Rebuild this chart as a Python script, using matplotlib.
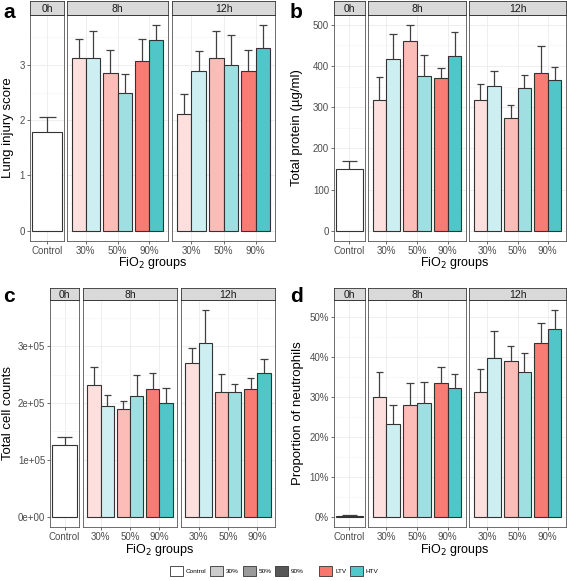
import matplotlib
matplotlib.use("Agg")
import matplotlib.pyplot as plt
from matplotlib.patches import Patch
import numpy as np

plt.rcParams["font.family"] = ["Liberation Sans Narrow", "Liberation Sans", "DejaVu Sans"]
plt.rcParams["mathtext.fontset"] = "custom"
plt.rcParams["mathtext.rm"] = "Liberation Sans Narrow"

W, H = 567, 581

TIMES = ["0h", "8h", "12h"]
FIO2 = ["30%", "50%", "90%"]

# rows: 8h, 12h ; columns: 30%, 50%, 90% FiO2 ; values = mean, *_SD = upper error
INJURY_CTRL, INJURY_CTRL_SD = 1.78, 0.28
INJURY_LTV = [[3.13, 2.86, 3.07], [2.12, 3.13, 2.89]]
INJURY_LTV_SD = [[0.35, 0.41, 0.41], [0.35, 0.48, 0.38]]
INJURY_HTV = [[3.13, 2.50, 3.46], [2.89, 3.00, 3.30]]
INJURY_HTV_SD = [[0.48, 0.33, 0.26], [0.36, 0.54, 0.42]]

PROTEIN_CTRL, PROTEIN_CTRL_SD = 151, 19
PROTEIN_LTV = [[317, 461, 372], [318, 274, 383]]
PROTEIN_LTV_SD = [[56, 38, 23], [38, 31, 65]]
PROTEIN_HTV = [[417, 376, 424], [352, 346, 365]]
PROTEIN_HTV_SD = [[61, 50, 58], [35, 33, 32]]

CELLS_CTRL, CELLS_CTRL_SD = 125700, 14300
CELLS_LTV = [[231000, 190000, 224000], [270000, 219000, 224000]]
CELLS_LTV_SD = [[32000, 14000, 28000], [27000, 32000, 20000]]
CELLS_HTV = [[195500, 213000, 200000], [305000, 220000, 252000]]
CELLS_HTV_SD = [[18500, 36000, 27000], [58000, 14000, 25000]]

NEUTRO_CTRL, NEUTRO_CTRL_SD = 0.0025, 0.0025
NEUTRO_LTV = [[0.300, 0.280, 0.336], [0.313, 0.390, 0.437]]
NEUTRO_LTV_SD = [[0.063, 0.056, 0.039], [0.058, 0.039, 0.049]]
NEUTRO_HTV = [[0.233, 0.285, 0.322], [0.398, 0.364, 0.471]]
NEUTRO_HTV_SD = [[0.047, 0.052, 0.036], [0.069, 0.047, 0.047]]

LTV_COLORS = ["#FDE0DE", "#FCBCB7", "#F87C73"]
HTV_COLORS = ["#CDEFF1", "#A0DFE1", "#50C6C9"]
EDGE = "#333333"
ERR = "#404040"


def px_rect(x0, x1, y0, y1):
    return [x0 / W, 1 - y1 / H, (x1 - x0) / W, (y1 - y0) / H]


def draw_panel(fig, facets, yr, strip, ctrl, ctrl_sd, ltv, ltv_sd, htv, htv_sd,
               major, minor, fmt):
    top = max(ctrl + ctrl_sd, np.max(np.add(ltv, ltv_sd)), np.max(np.add(htv, htv_sd)))
    ylim = (-0.05 * top, 1.05 * top)
    for i, (xr, t) in enumerate(zip(facets, TIMES)):
        ax = fig.add_axes(px_rect(*xr, *yr))
        ax.set_axisbelow(True)
        sax = fig.add_axes(px_rect(*xr, *strip))
        sax.set_facecolor("#D9D9D9")
        sax.set_xticks([])
        sax.set_yticks([])
        for s in sax.spines.values():
            s.set_color(EDGE)
            s.set_linewidth(0.6)
        sax.text(0.5, 0.45, t, ha="center", va="center", transform=sax.transAxes,
                 fontsize=7.5, color="#1A1A1A")

        if i == 0:
            ax.bar([1], [ctrl], width=1.04, color="white", edgecolor=EDGE, lw=0.8, zorder=2)
            ax.vlines([1], [ctrl], [ctrl + ctrl_sd], color=ERR, lw=0.9, zorder=3)
            ax.hlines([ctrl + ctrl_sd], [0.7], [1.3], color=ERR, lw=0.9, zorder=3)
            ax.set_xlim(0.4, 1.6)
            ax.set_xticks([1])
            ax.set_xticklabels(["Control"])
        else:
            x = np.arange(1, len(FIO2) + 1)
            m_l, s_l = np.array(ltv[i - 1]), np.array(ltv_sd[i - 1])
            m_h, s_h = np.array(htv[i - 1]), np.array(htv_sd[i - 1])
            ax.bar(x - 0.225, m_l, width=0.45, color=LTV_COLORS, edgecolor=EDGE, lw=0.8, zorder=2)
            ax.bar(x + 0.225, m_h, width=0.45, color=HTV_COLORS, edgecolor=EDGE, lw=0.8, zorder=2)
            for xs, m, s in ((x - 0.225, m_l, s_l), (x + 0.225, m_h, s_h)):
                ax.vlines(xs, m, m + s, color=ERR, lw=0.9, zorder=3)
                ax.hlines(m + s, xs - 0.125, xs + 0.125, color=ERR, lw=0.9, zorder=3)
            ax.set_xlim(0.4, 3.6)
            ax.set_xticks(x)
            ax.set_xticklabels(FIO2)

        ax.set_ylim(*ylim)
        ax.set_yticks(major)
        ax.set_yticks([v for v in minor if ylim[0] < v < ylim[1]], minor=True)
        ax.set_yticklabels([fmt(v) for v in major])
        ax.grid(True, which="major", color="#EBEBEB", lw=0.6)
        ax.grid(True, which="minor", axis="y", color="#F3F3F3", lw=0.4)
        ax.tick_params(which="major", length=2.5, width=0.5, color="#333333", pad=1,
                       labelsize=7, labelcolor="#4D4D4D")
        ax.tick_params(which="minor", length=0)
        if i > 0:
            ax.tick_params(axis="y", left=False, labelleft=False)
        for s in ax.spines.values():
            s.set_color("#555555")
            s.set_linewidth(0.6)


def main():
    fig = plt.figure(figsize=(W / 100, H / 100), dpi=100)

    top_y, bot_y = (15, 241), (300, 527)
    top_strip, bot_strip = (1, 15), (288, 300)
    left_f = [(30, 64), (67, 168), (172, 275)]
    right_f = [(334, 365), (368, 466), (469, 566)]
    left_f_c = [(50, 79), (83, 177), (181, 275)]

    draw_panel(fig, left_f, top_y, top_strip, INJURY_CTRL, INJURY_CTRL_SD,
               INJURY_LTV, INJURY_LTV_SD, INJURY_HTV, INJURY_HTV_SD,
               [0, 1, 2, 3], [0.5, 1.5, 2.5, 3.5], lambda v: f"{v:g}")
    draw_panel(fig, right_f, top_y, top_strip, PROTEIN_CTRL, PROTEIN_CTRL_SD,
               PROTEIN_LTV, PROTEIN_LTV_SD, PROTEIN_HTV, PROTEIN_HTV_SD,
               [0, 100, 200, 300, 400, 500], [50, 150, 250, 350, 450, 550],
               lambda v: f"{v:g}")
    draw_panel(fig, left_f_c, bot_y, bot_strip, CELLS_CTRL, CELLS_CTRL_SD,
               CELLS_LTV, CELLS_LTV_SD, CELLS_HTV, CELLS_HTV_SD,
               [0, 1e5, 2e5, 3e5], [0.5e5, 1.5e5, 2.5e5, 3.5e5],
               lambda v: f"{v:.0e}")
    draw_panel(fig, right_f, bot_y, bot_strip, NEUTRO_CTRL, NEUTRO_CTRL_SD,
               NEUTRO_LTV, NEUTRO_LTV_SD, NEUTRO_HTV, NEUTRO_HTV_SD,
               [0, 0.1, 0.2, 0.3, 0.4, 0.5], [0.05, 0.15, 0.25, 0.35, 0.45, 0.55],
               lambda v: f"{v:.0%}")

    # axis titles
    ylab = dict(rotation=90, ha="center", va="center", fontsize=9.5,
                family=["Liberation Sans", "DejaVu Sans"])
    fig.text(8 / W, 1 - 128 / H, "Lung injury score", **ylab)
    fig.text(297 / W, 1 - 128 / H, "Total protein (µg/ml)", **ylab)
    fig.text(8 / W, 1 - 413 / H, "Total cell counts", **ylab)
    fig.text(298 / W, 1 - 413 / H, "Proportion of neutrophils", **ylab)
    for xc, yt in ((153, 255), (455, 255), (160, 542), (455, 542)):
        fig.text(xc / W, 1 - yt / H, "FiO$_2$ groups", ha="center", va="top",
                 fontsize=9)

    # panel letters
    for lab, xc, yc in (("a", 3, 18), ("b", 290, 18), ("c", 3, 302), ("d", 290, 302)):
        fig.text(xc / W, 1 - yc / H, lab, ha="left", va="baseline", fontsize=15,
                 fontweight="bold", family=["Liberation Sans", "DejaVu Sans"])

    # legends
    alpha_handles = [Patch(facecolor=c, edgecolor=EDGE, lw=0.6, label=l) for c, l in
                     (("white", "Control"), ("#CCCCCC", "30%"),
                      ("#9A9A9A", "50%"), ("#575757", "90%"))]
    fill_handles = [Patch(facecolor=c, edgecolor=EDGE, lw=0.6, label=l) for c, l in
                    (("#F8766D", "LTV"), ("#4FC9CC", "HTV"))]
    leg_kw = dict(loc="center", frameon=False, fontsize=4.6, handlelength=2.0,
                  handleheight=2.0, handletextpad=0.45, columnspacing=0.6,
                  borderpad=0, borderaxespad=0)
    fig.legend(handles=alpha_handles, ncol=4, bbox_to_anchor=(237 / W, 1 - 571 / H), **leg_kw)
    fig.legend(handles=fill_handles, ncol=2, bbox_to_anchor=(349 / W, 1 - 571 / H), **leg_kw)

    fig.savefig("out.png", dpi=100)


if __name__ == "__main__":
    main()
